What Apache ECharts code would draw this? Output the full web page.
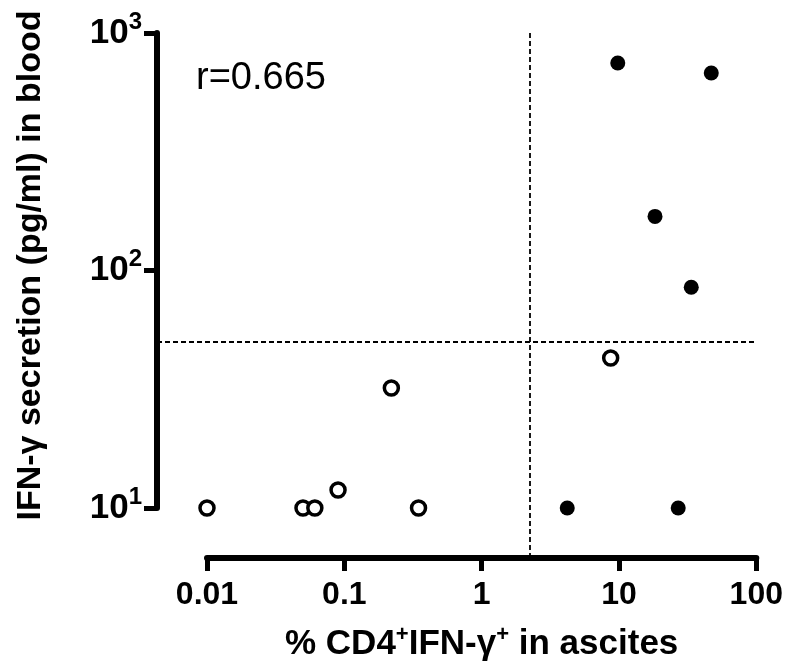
<!DOCTYPE html>
<html>
<head>
<meta charset="utf-8">
<script src="https://cdn.jsdelivr.net/npm/echarts@6/dist/echarts.min.js"></script>
<style>
html,body{margin:0;padding:0;background:#fff;}
#chart{width:786px;height:668px;}
</style>
</head>
<body>
<div id="chart"></div>
<script>
// Data
const filledX = [9.8, 47, 18.3, 33.6, 4.2, 27];
const filledY = [748, 679, 169, 85, 10, 10];
const openX = [0.01, 0.05, 0.061, 0.09, 0.22, 0.347, 8.7];
const openY = [10, 10, 10, 11.9, 32, 10, 42.8];
const cutoffX = 2.24;
const cutoffY = 50;
const xTickLabels = ['0.01', '0.1', '1', '10', '100'];
const yTickExponents = ['1', '2', '3'];
const annotation = 'r=0.665';

const FONT = "'Liberation Sans', Arial, Helvetica, sans-serif";

const chart = echarts.init(document.getElementById('chart'), null, {renderer: 'canvas'});

const zip = (xs, ys) => xs.map((x, i) => [x, ys[i]]);

const option = {
  backgroundColor: '#fff',
  animation: false,
  title: {
    text: annotation,
    left: 191,
    top: 55,
    textStyle: {fontFamily: FONT, fontSize: 38, fontWeight: 'normal', color: '#000'}
  },
  grid: [
    {left: 207, right: 29, top: 33, bottom: 160},
    {left: 157, right: 29, top: 33, bottom: 110}
  ],
  xAxis: [
    {
      type: 'log', logBase: 10, gridIndex: 0, min: 0.01, max: 100, offset: 50,
      name: '{t|% CD4}{s|+}{t|IFN-\u03b3}{s|+}{t| in ascites}',
      nameLocation: 'middle', nameGap: 66,
      nameTextStyle: {
        rich: {
          t: {fontFamily: FONT, fontSize: 35, fontWeight: 'bold', color: '#000', lineHeight: 40},
          s: {fontFamily: FONT, fontSize: 22, fontWeight: 'bold', color: '#000', verticalAlign: 'top', lineHeight: 20}
        }
      },
      axisLine: {show: true, lineStyle: {color: '#000', width: 6}},
      axisTick: {show: true, inside: false, length: 13, lineStyle: {color: '#000', width: 5}},
      splitLine: {show: false},
      minorTick: {show: false},
      axisLabel: {
        margin: 21, fontFamily: FONT, fontSize: 32, fontWeight: 'bold', color: '#000',
        formatter: function (v) {
          const i = Math.round(Math.log10(v)) + 2;
          return xTickLabels[i] !== undefined ? xTickLabels[i] : '';
        }
      }
    },
    {type: 'log', logBase: 10, gridIndex: 1, min: 0.004328, max: 100, show: false}
  ],
  yAxis: [
    {
      type: 'log', logBase: 10, gridIndex: 0, min: 10, max: 1000, offset: 50,
      name: 'IFN-\u03b3 secretion (pg/ml) in blood',
      nameLocation: 'middle', nameGap: 109, nameRotate: 90,
      nameTextStyle: {fontFamily: FONT, fontSize: 34, fontWeight: 'bold', color: '#000', padding: [0, 0, 0, 10]},
      axisLine: {show: true, lineStyle: {color: '#000', width: 6}},
      axisTick: {show: true, inside: false, length: 13, lineStyle: {color: '#000', width: 5}},
      splitLine: {show: false},
      minorTick: {show: false},
      axisLabel: {
        margin: 15,
        formatter: function (v) {
          const i = Math.round(Math.log10(v)) - 1;
          return '{b|10}{s|' + yTickExponents[i] + '}';
        },
        rich: {
          b: {fontFamily: FONT, fontSize: 35, fontWeight: 'bold', color: '#000', lineHeight: 46},
          s: {fontFamily: FONT, fontSize: 24, fontWeight: 'bold', color: '#000', verticalAlign: 'top', lineHeight: 24}
        }
      }
    },
    {type: 'log', logBase: 10, gridIndex: 1, min: 6.16, max: 1000, show: false}
  ],
  series: [
    {
      name: 'cutoffs', type: 'scatter', xAxisIndex: 1, yAxisIndex: 1, data: [], silent: true,
      markLine: {
        silent: true, symbol: ['none', 'none'], label: {show: false},
        lineStyle: {color: '#000', width: 1.8, type: [5, 3]},
        data: [{xAxis: cutoffX}, {yAxis: cutoffY}]
      }
    },
    {
      name: 'open', type: 'scatter', xAxisIndex: 0, yAxisIndex: 0,
      data: zip(openX, openY), symbol: 'circle', symbolSize: 14,
      itemStyle: {color: '#fff', borderColor: '#000', borderWidth: 3.5, opacity: 1}
    },
    {
      name: 'filled', type: 'scatter', xAxisIndex: 0, yAxisIndex: 0,
      data: zip(filledX, filledY), symbol: 'circle', symbolSize: 15,
      itemStyle: {color: '#000', opacity: 1}
    }
  ]
};
chart.setOption(option);
</script>
</body>
</html>
